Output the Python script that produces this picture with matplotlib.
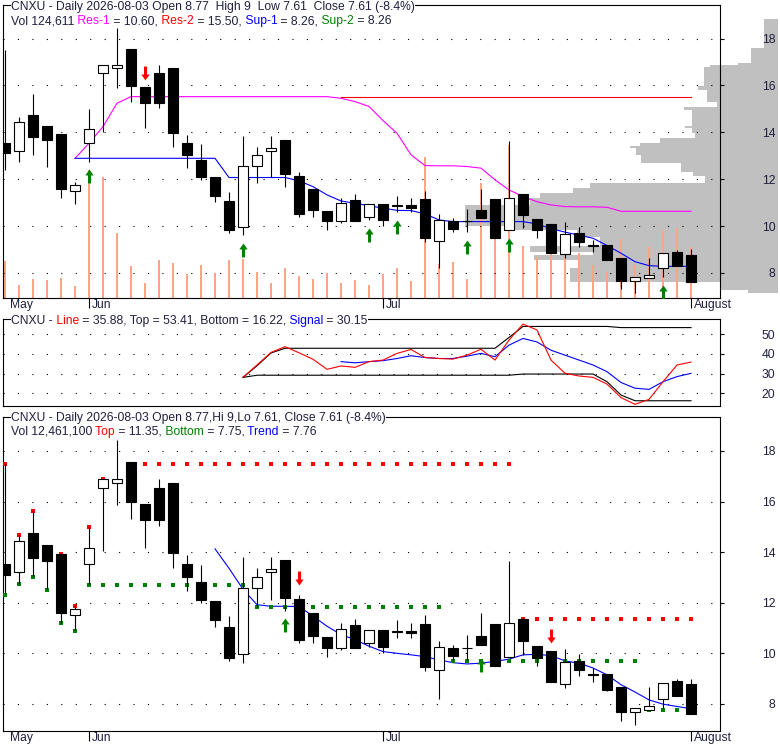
import numpy as np
import matplotlib
matplotlib.use('Agg')
import matplotlib.pyplot as plt
from matplotlib.path import Path

nan = np.nan

# ---------------- data ----------------
opens = [13.53, 13.22, 14.74, 14.27, 13.93, 11.51, 13.53, 16.52, 16.73, 17.56,
         15.92, 16.52, 16.73, 13.53, 12.82, 12.08, 11.06, 9.98, 12.57, 13.22,
         13.68, 12.14, 11.58, 10.65, 10.23, 11.12, 10.40, 10.94, 10.86, 10.90,
         11.16, 9.35, 10.22, 10.21, 10.69, 11.16, 9.84, 11.37, 10.30, 10.09,
         8.80, 9.69, 9.18, 9.17, 8.65, 7.67, 7.77, 8.20, 8.90, 8.77]
highs = [17.52, 14.67, 15.64, 14.27, 13.93, 11.90, 15.01, 16.88, 18.44, 17.56,
         15.92, 16.88, 16.73, 13.89, 13.50, 12.08, 11.47, 13.82, 13.39, 13.82,
         13.68, 12.32, 11.58, 10.65, 11.19, 11.37, 10.93, 10.94, 11.30, 11.19,
         11.50, 10.50, 10.33, 10.73, 11.58, 11.16, 13.63, 11.37, 10.30, 10.09,
         10.19, 9.98, 9.41, 9.17, 8.65, 7.82, 8.65, 8.84, 8.98, 9.00]
lows = [12.40, 12.75, 13.04, 12.54, 11.21, 10.92, 12.75, 14.03, 15.88, 15.31,
        14.17, 15.03, 13.36, 12.47, 11.97, 11.04, 9.69, 9.62, 11.85, 12.11,
        11.68, 10.40, 10.40, 9.84, 10.15, 10.23, 10.26, 10.00, 10.59, 10.59,
        9.31, 8.20, 9.74, 9.74, 10.33, 9.51, 9.84, 9.93, 9.51, 8.87,
        8.63, 9.12, 8.88, 8.53, 7.32, 7.16, 7.77, 7.82, 8.31, 7.61]
closes = [13.11, 14.43, 13.78, 13.65, 11.58, 11.74, 14.15, 16.88, 16.88, 15.99,
          15.27, 15.27, 13.96, 13.02, 12.11, 11.30, 9.81, 12.57, 13.02, 13.32,
          12.20, 10.53, 10.69, 10.23, 10.97, 10.23, 10.93, 10.26, 10.88, 10.79,
          9.47, 10.26, 9.89, 10.23, 10.33, 9.51, 11.19, 10.48, 9.81, 8.87,
          9.65, 9.34, 9.16, 8.57, 7.67, 7.82, 7.91, 8.84, 8.31, 7.61]
volume_k = [90, 31, 46, 43, 49, 29, 312, 296, 159, 78,
            37, 92, 86, 59, 80, 61, 92, 96, 64, 37,
            74, 53, 46, 61, 37, 43, 31, 58, 73, 41,
            344, 84, 88, 46, 281, 157, 373, 126, 100, 110,
            100, 110, 80, 64, 143, 80, 125, 167, 172, 125]

month_ticks = [6, 27, 49]
month_pos = [0.14, 6, 27, 49]
month_lab = ['May', 'Jun', 'Jul', 'August']

# support / resistance (top panel)
res1 = ([nan] * 5 + [12.89, 13.53, 14.24, 15.24, 15.52] + [15.52] * 14 +
        [15.45, 15.31, 15.10, 14.50, 13.96, 13.04, 12.58, 12.57, 12.57, 12.54,
         12.47, 11.97, 11.54, 11.26, 11.04, 10.90, 10.83, 10.82, 10.82, 10.80] +
        [10.63] * 6)
res2 = [nan] * 24 + [15.50] * 26
sup1 = ([nan] * 5 + [12.89] * 11 + [12.07] * 5 +
        [11.93, 11.68, 11.33, 11.07, 10.97, 10.87, 10.76, 10.67, 10.66, 10.52, 10.26] +
        [10.19] * 6 +
        [10.09, 9.89, 9.74, 9.61, 9.48, 9.17, 8.84, 8.48, 8.31] + [8.28] * 3)
sup_up_idx = [6, 17, 26, 28, 33, 36, 47]
sup_up_lvl = [12.14, 8.98, 9.62, 9.94, 9.09, 9.19, 7.19]
res_dn_idx = [10]
res_dn_lvl = [16.55]

# volume by price
vp_lo = [17.58, 16.97, 16.87, 16.80, 15.97, 15.80, 15.28, 15.09, 14.95, 14.28,
         14.17, 13.96, 13.74, 13.53, 13.42, 13.32, 13.03, 12.68, 12.32, 12.14,
         11.84, 11.61, 11.42, 11.20, 10.90, 10.00, 9.83, 9.52, 9.15, 8.91,
         8.77, 8.55, 8.20, 7.63, 7.27, 7.15]
vp_hi = [18.83, 17.58, 16.97, 16.87, 16.80, 15.97, 15.80, 15.28, 15.09, 14.95,
         14.28, 14.17, 13.96, 13.74, 13.53, 13.42, 13.32, 13.03, 12.68, 12.32,
         12.14, 11.84, 11.61, 11.42, 11.20, 10.90, 10.00, 9.83, 9.52, 9.15,
         8.91, 8.77, 8.55, 8.20, 7.63, 7.27]
vp_vol = [14, 27, 40, 68, 74, 80, 71, 61, 94, 86,
          93, 86, 83, 118, 138, 148, 142, 137, 97, 85,
          73, 188, 205, 238, 248, 313, 263, 201, 178, 248,
          185, 244, 198, 208, 58, 30]

# oscillator (middle panel)
osc_line = [nan] * 17 + [28.1, 34.4, 40.8, 43.7, 40.6, 37.3, 32.2, 33.9, 33.2, 36.1,
                         36.9, 40.3, 42.3, 38.2, 37.7, 37.4, 39.4, 42.4, 36.9, 47.1,
                         55.2, 52.2, 36.9, 30.2, 28.8, 28.1, 24.7, 17.8, 14.4, 16.9,
                         25.9, 34.4, 35.88]
osc_signal = [nan] * 24 + [36.1, 35.5, 36.1, 36.6, 37.7, 39.1, 38.2, 37.7, 37.7, 38.9,
                           40.3, 38.6, 44.5, 47.9, 46.1, 41.9, 39.4, 36.9, 34.4, 31.0,
                           25.5, 22.6, 22.0, 25.9, 28.5, 30.15]
osc_top = [nan] * 17 + [28.1, 34.0, 40.5] + [42.9] * 16 + [48.4] + [54.0] * 7 + [53.41] * 6
osc_bottom = [nan] * 17 + [28.1] + [29.2] * 19 + [29.8] * 6 + [25.9, 19.1] + [16.22] * 5

# trend channel (bottom panel)
trend = [nan] * 15 + [14.13, 13.36, 12.53, 11.92, 11.86, 11.86, 11.85, 11.47, 11.07, 10.74,
                      10.54, 10.28, 10.07, 10.00, 9.94, 9.87, 9.74, 9.63, 9.58, 9.61,
                      9.68, 9.77, 9.94, 9.96, 9.91, 9.70, 9.61, 9.42, 9.15, 8.76,
                      8.47, 8.16, 7.99, 7.90, 7.81]
top_dots = ([17.47, 14.68, 15.63, 14.22, 13.92, 11.87, 14.98, 16.88, nan] +
            [17.47] * 28 + [11.35] * 13)
bot_dots = ([12.31, 12.73, 13.01, 12.49, 11.19, 10.87] + [12.69] * 12 +
            [11.82] * 14 + [9.69] * 14 + [7.75] * 4)
tr_up_idx = [20, 34]
tr_up_lvl = [11.10, 9.54]
tr_dn_idx = [21, 39]
tr_dn_lvl = [12.98, 10.67]

# ---------------- figure ----------------
W, H, DPI = 780, 745, 100
FS = 8.7
INK = '#202040'
plt.rcParams['font.family'] = ['Liberation Sans', 'DejaVu Sans']

fig = plt.figure(figsize=(W / DPI, H / DPI), dpi=DPI, facecolor='white')
idx = np.arange(len(opens))
XLIM = (-0.143, 51.07)

UP = Path([(0, 1), (0.6, 0.15), (0.22, 0.15), (0.22, -1), (-0.22, -1),
           (-0.22, 0.15), (-0.6, 0.15), (0, 1)],
          [Path.MOVETO] + [Path.LINETO] * 6 + [Path.CLOSEPOLY])
DOWN = Path(UP.vertices * [1, -1], UP.codes)


def box(x0, y0, x1, y1):
    return [x0 / W, 1 - y1 / H, (x1 - x0) / W, (y1 - y0) / H]


def style(ax, ylim, yticks):
    ax.set_xlim(XLIM)
    ax.set_ylim(ylim)
    ax.set_yticks(yticks)
    ax.yaxis.tick_right()
    ax.tick_params(axis='y', direction='out', length=3, width=0.8, pad=37,
                   labelsize=FS, labelcolor=INK)
    plt.setp(ax.get_yticklabels(), ha='right')
    ax.grid(axis='y', color='black', lw=0.8, ls=(0, (1, 12)))
    for sp in ax.spines.values():
        sp.set_linewidth(0.8)


def months(ax):
    ax.set_xticks(month_ticks)
    ax.tick_params(axis='x', direction='out', length=7, width=0.8, labelbottom=False)
    for pos, lab in zip(month_pos, month_lab):
        ax.annotate(lab, xy=(pos, 0), xycoords=('data', 'axes fraction'),
                    xytext=(3, -1), textcoords='offset pixels', ha='left', va='top',
                    fontsize=FS, color=INK, annotation_clip=False)


def candles(ax):
    o, h, l, c = map(np.asarray, (opens, highs, lows, closes))
    ax.vlines(idx, l, h, color='black', lw=0.8, zorder=3)
    ax.bar(idx, np.abs(c - o), bottom=np.minimum(o, c), width=0.72,
           color=np.where(c >= o, 'white', 'black'), edgecolor='black',
           linewidth=0.8, zorder=4)


def header(ax, x_px, y_px, parts, white=False):
    prev = None
    bb = dict(boxstyle='square,pad=0', fc='white', ec='none') if white else None
    for s, col in parts:
        if prev is None:
            prev = ax.annotate(s, xy=(x_px, H - y_px), xycoords='figure pixels',
                               ha='left', va='center', fontsize=FS, color=col,
                               bbox=bb, annotation_clip=False, zorder=6)
        else:
            prev = ax.annotate(s, xy=(1, 0), xycoords=prev, ha='left', va='bottom',
                               fontsize=FS, color=col, bbox=bb,
                               annotation_clip=False, zorder=6)


# ---- top panel: price, volume, volume-by-price ----
top_ylim = (6.93, 19.43)
axp = fig.add_axes(box(3, 5, 778, 298), zorder=0)
axp.axis('off')
axp.set_ylim(top_ylim)
axp.set_xlim(775, 0)
axp.barh(vp_lo, vp_vol, height=np.subtract(vp_hi, vp_lo), left=0, align='edge',
         color='#C0C0C0', linewidth=0)

axv = fig.add_axes(box(3, 5, 720, 298), zorder=1)
axv.axis('off')
axv.set_xlim(XLIM)
axv.set_ylim(0, 716)
axv.bar(idx, volume_k, width=0.17, color='#FFA585', linewidth=0, antialiased=False)

ax1 = fig.add_axes(box(3, 5, 720, 298), zorder=2)
ax1.patch.set_visible(False)
style(ax1, top_ylim, [8, 10, 12, 14, 16, 18])
months(ax1)
candles(ax1)
ax1.plot(idx, res1, color='#FF00FF', lw=0.8, zorder=2.6)
ax1.plot(idx, res2, color='#FF0000', lw=0.8, zorder=2.7)
ax1.plot(idx, sup1, color='#0000FF', lw=0.8, zorder=2.7)
ax1.plot(sup_up_idx, sup_up_lvl, ls='none', marker=UP, ms=10, color='#008000',
         mew=0, zorder=5)
ax1.plot(res_dn_idx, res_dn_lvl, ls='none', marker=DOWN, ms=10, color='#FF0000',
         mew=0, zorder=5)
header(ax1, 11, 7, [('CNXU - Daily 2026-08-03 Open 8.77  High 9  Low 7.61  Close 7.61 (-8.4%)', INK)],
       white=True)
header(ax1, 11, 21, [('Vol 124,611', INK), (' Res-1', '#FF00FF'), (' = 10.60,', INK),
                     (' Res-2', '#FF0000'), (' = 15.50,', INK), (' Sup-1', '#0000FF'),
                     (' = 8.26,', INK), (' Sup-2', '#008000'), (' = 8.26', INK)])

# ---- middle panel: oscillator ----
axm = fig.add_axes(box(3, 319, 720, 406), zorder=2)
style(axm, (13.55, 57.78), [20, 30, 40, 50])
axm.set_xticks([])
axm.plot(idx, osc_top, color='black', lw=0.8)
axm.plot(idx, osc_bottom, color='black', lw=0.8)
axm.plot(idx, osc_signal, color='#0000FF', lw=0.8)
axm.plot(idx, osc_line, color='#FF0000', lw=0.8)
header(axm, 11, 321, [('CNXU -', INK), (' Line', '#FF0000'),
                      (' = 35.88, Top = 53.41, Bottom = 16.22,', INK),
                      (' Signal', '#0000FF'), (' = 30.15', INK)], white=True)

# ---- bottom panel: price with trend channel ----
axb = fig.add_axes(box(3, 417, 720, 731), zorder=2)
style(axb, (6.93, 19.34), [8, 10, 12, 14, 16, 18])
months(axb)
candles(axb)
axb.plot(idx, trend, color='#0000FF', lw=0.8, zorder=2.7)
axb.plot(idx, top_dots, ls='none', marker='s', ms=2.2, color='#FF0000', mew=0, zorder=2.8)
axb.plot(idx, bot_dots, ls='none', marker='s', ms=2.2, color='#008000', mew=0, zorder=2.8)
axb.plot(tr_up_idx, tr_up_lvl, ls='none', marker=UP, ms=10, color='#008000', mew=0, zorder=5)
axb.plot(tr_dn_idx, tr_dn_lvl, ls='none', marker=DOWN, ms=10, color='#FF0000', mew=0, zorder=5)
header(axb, 11, 418, [('CNXU - Daily 2026-08-03 Open 8.77,Hi 9,Lo 7.61, Close 7.61 (-8.4%)', INK)],
       white=True)
header(axb, 11, 432, [('Vol 12,461,100', INK), (' Top', '#FF0000'), (' = 11.35,', INK),
                      (' Bottom', '#008000'), (' = 7.75,', INK), (' Trend', '#0000FF'),
                      (' = 7.76', INK)])

fig.savefig('out.png', dpi=DPI, facecolor='white')
